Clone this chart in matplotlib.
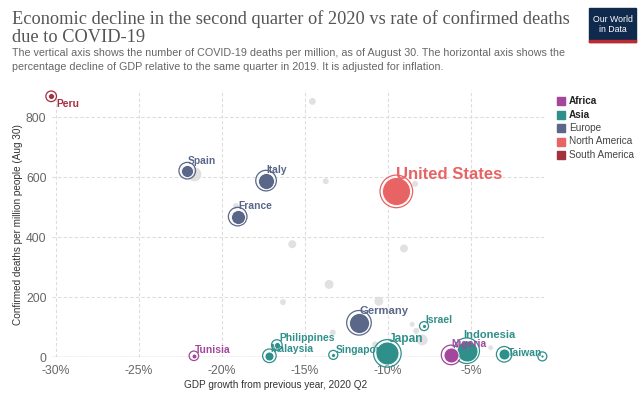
import matplotlib
matplotlib.use("Agg")
import matplotlib.pyplot as plt
from matplotlib.patches import Rectangle

W, H = 643, 397

# highlighted countries
countries = ["Peru", "Spain", "Italy", "France", "United States", "Germany",
             "Japan", "Israel", "Philippines", "Malaysia", "Singapore",
             "Tunisia", "Indonesia", "Nigeria", "South Korea", "Taiwan"]
continents = ["South America", "Europe", "Europe", "Europe", "North America",
              "Europe", "Asia", "Asia", "Asia", "Asia", "Asia", "Africa",
              "Asia", "Africa", "Asia", "Asia"]
gdp_growth = [-30.3, -22.1, -17.35, -19.06, -9.5, -11.75, -10.04, -7.83,
              -16.7, -17.15, -13.3, -21.7, -5.26, -6.2, -3.0, -0.7]
deaths_pm = [870, 622, 589, 469, 553, 115, 13, 104, 41, 5, 8, 5, 22, 8, 10, 3]
bubble = [9, 36, 64, 49, 196, 100, 132, 4, 9, 20, 4, 6, 110, 56, 30, 2.5]
show_label = [True] * 14 + [False, True]

# other countries (grey)
other_gdp = [-14.56, -13.75, -15.77, -9.04, -13.55, -21.67, -19.16, -8.37,
             -10.56, -13.33, -8.54, -8.3, -7.94, -10.78, -3.81, -16.33]
other_deaths = [853, 587, 377, 363, 243, 610, 504, 578, 187, 83, 110, 88,
                58, 43, 32, 184]
other_bubble = [12, 9, 16, 16, 20, 49, 9, 9, 20, 9, 6, 9, 30, 9, 6, 9]

legend_items = ["Africa", "Asia", "Europe", "North America", "South America"]
legend_bold = ["Africa", "Asia"]

colors = {
    "Africa": "#a2479b",
    "Asia": "#2f8f8a",
    "Europe": "#5a6789",
    "North America": "#e86464",
    "South America": "#a3303f",
}

# label offsets in pixels (dx, dy) and alignment
label_pos = {
    "Peru": (5, -8, "left"), "Spain": (0, 10, "left"), "Italy": (0, 11, "left"),
    "France": (1, 11, "left"), "United States": (0, 17, "left"),
    "Germany": (1, 12, "left"), "Japan": (1, 14, "left"),
    "Israel": (1, 6, "left"), "Philippines": (3, 7, "left"),
    "Malaysia": (1, 7, "left"), "Singapore": (2, 5, "left"),
    "Tunisia": (1, 6, "left"), "Indonesia": (-3, 16, "left"),
    "Nigeria": (0, 11, "left"), "Taiwan": (0, 3, "right"),
}
label_size = {"United States": 12.0, "Indonesia": 8.0, "Japan": 8.6,
              "Germany": 8.1}

plt.rcParams["font.family"] = ["Liberation Sans", "DejaVu Sans"]

fig = plt.figure(figsize=(W / 100, H / 100), dpi=100)


def fx(x):
    return x / W


def fy(y):
    return 1 - y / H


ax_left, ax_right, ax_top, ax_bottom = 52, 544, 90, 357.3
ax = fig.add_axes([fx(ax_left), fy(ax_bottom), fx(ax_right - ax_left),
                   (ax_bottom - ax_top) / H])
ax.set_xlim(-30.25, -0.6)
ax.set_ylim(0, 891)

for s in ax.spines.values():
    s.set_visible(False)
ax.set_xticks([-30, -25, -20, -15, -10, -5])
ax.set_xticklabels(["-30%", "-25%", "-20%", "-15%", "-10%", "-5%"])
ax.set_yticks([0, 200, 400, 600, 800])
ax.tick_params(length=0, labelsize=8.8, colors="#666666", pad=4)
ax.tick_params(axis="x", pad=5.5)
ax.grid(True, color="#dddddd", linestyle=(0, (3, 2)), linewidth=0.8)
ax.axhline(0, color="#cccccc", linewidth=1, zorder=1)
ax.set_axisbelow(True)


def r_to_s(r):
    return (2 * r * 0.72) ** 2


# grey points
ax.scatter(other_gdp, other_deaths, s=[r_to_s(b ** 0.5) for b in other_bubble],
           color="#dcdcdc", alpha=0.85, linewidths=0, zorder=2, clip_on=False)

# highlighted points: outer ring + filled dot
order = sorted(range(len(countries)), key=lambda i: -bubble[i])
for i in order:
    c = colors[continents[i]]
    r = bubble[i] ** 0.5
    ring = max(r + 2.3, 4.5)
    ax.scatter(gdp_growth[i], deaths_pm[i], s=r_to_s(ring), facecolors="none",
               edgecolors=c, linewidths=0.9, zorder=3, clip_on=False)
    ax.scatter(gdp_growth[i], deaths_pm[i], s=r_to_s(r), color=c,
               edgecolors="white", linewidths=0.6, zorder=4, clip_on=False)

for i, name in enumerate(countries):
    if not show_label[i]:
        continue
    dx, dy, ha = label_pos[name]
    ax.annotate(name, (gdp_growth[i], deaths_pm[i]), xytext=(dx, dy),
                textcoords="offset pixels", ha=ha, va="center",
                fontsize=label_size.get(name, 7.4), fontweight="bold",
                color=colors[continents[i]], zorder=5, annotation_clip=False)

# axis titles
fig.text(fx(276), fy(385), "GDP growth from previous year, 2020 Q2",
         ha="center", va="center", fontsize=7.2, color="#333333")
fig.text(fx(18), fy(225), "Confirmed deaths per million people (Aug 30)",
         ha="center", va="center", rotation=90, fontsize=7.2, color="#333333")

# title and subtitle
fig.text(fx(12), fy(19), "Economic decline in the second quarter of 2020 vs rate of confirmed deaths",
         ha="left", va="center", fontsize=13.2, color="#555555",
         family="Liberation Serif")
fig.text(fx(12), fy(37), "due to COVID-19", ha="left", va="center",
         fontsize=13.2, color="#555555", family="Liberation Serif")
fig.text(fx(12), fy(53), "The vertical axis shows the number of COVID-19 deaths per million, as of August 30. The horizontal axis shows the",
         ha="left", va="center", fontsize=7.75, color="#666666")
fig.text(fx(12), fy(67), "percentage decline of GDP relative to the same quarter in 2019. It is adjusted for inflation.",
         ha="left", va="center", fontsize=7.75, color="#666666")

# logo
fig.patches.append(Rectangle((fx(589), fy(42)), fx(47), (42 - 8) / H,
                             transform=fig.transFigure, color="#0f2a4d"))
fig.patches.append(Rectangle((fx(589), fy(42)), fx(47), 2.5 / H,
                             transform=fig.transFigure, color="#c0282d"))
fig.text(fx(612.5), fy(19), "Our World", ha="center", va="center",
         fontsize=6.3, color="white")
fig.text(fx(612.5), fy(30), "in Data", ha="center", va="center",
         fontsize=6.3, color="white")

# legend
for k, name in enumerate(legend_items):
    yy = 101 + k * 13.5
    fig.patches.append(Rectangle((fx(557), fy(yy + 4)), fx(8), 8 / H,
                                 transform=fig.transFigure,
                                 color=colors[name]))
    bold = name in legend_bold
    fig.text(fx(569), fy(yy), name, ha="left", va="center", fontsize=7.2,
             color="#222222" if bold else "#444444",
             fontweight="bold" if bold else "normal")

fig.savefig("out.png", dpi=100)
